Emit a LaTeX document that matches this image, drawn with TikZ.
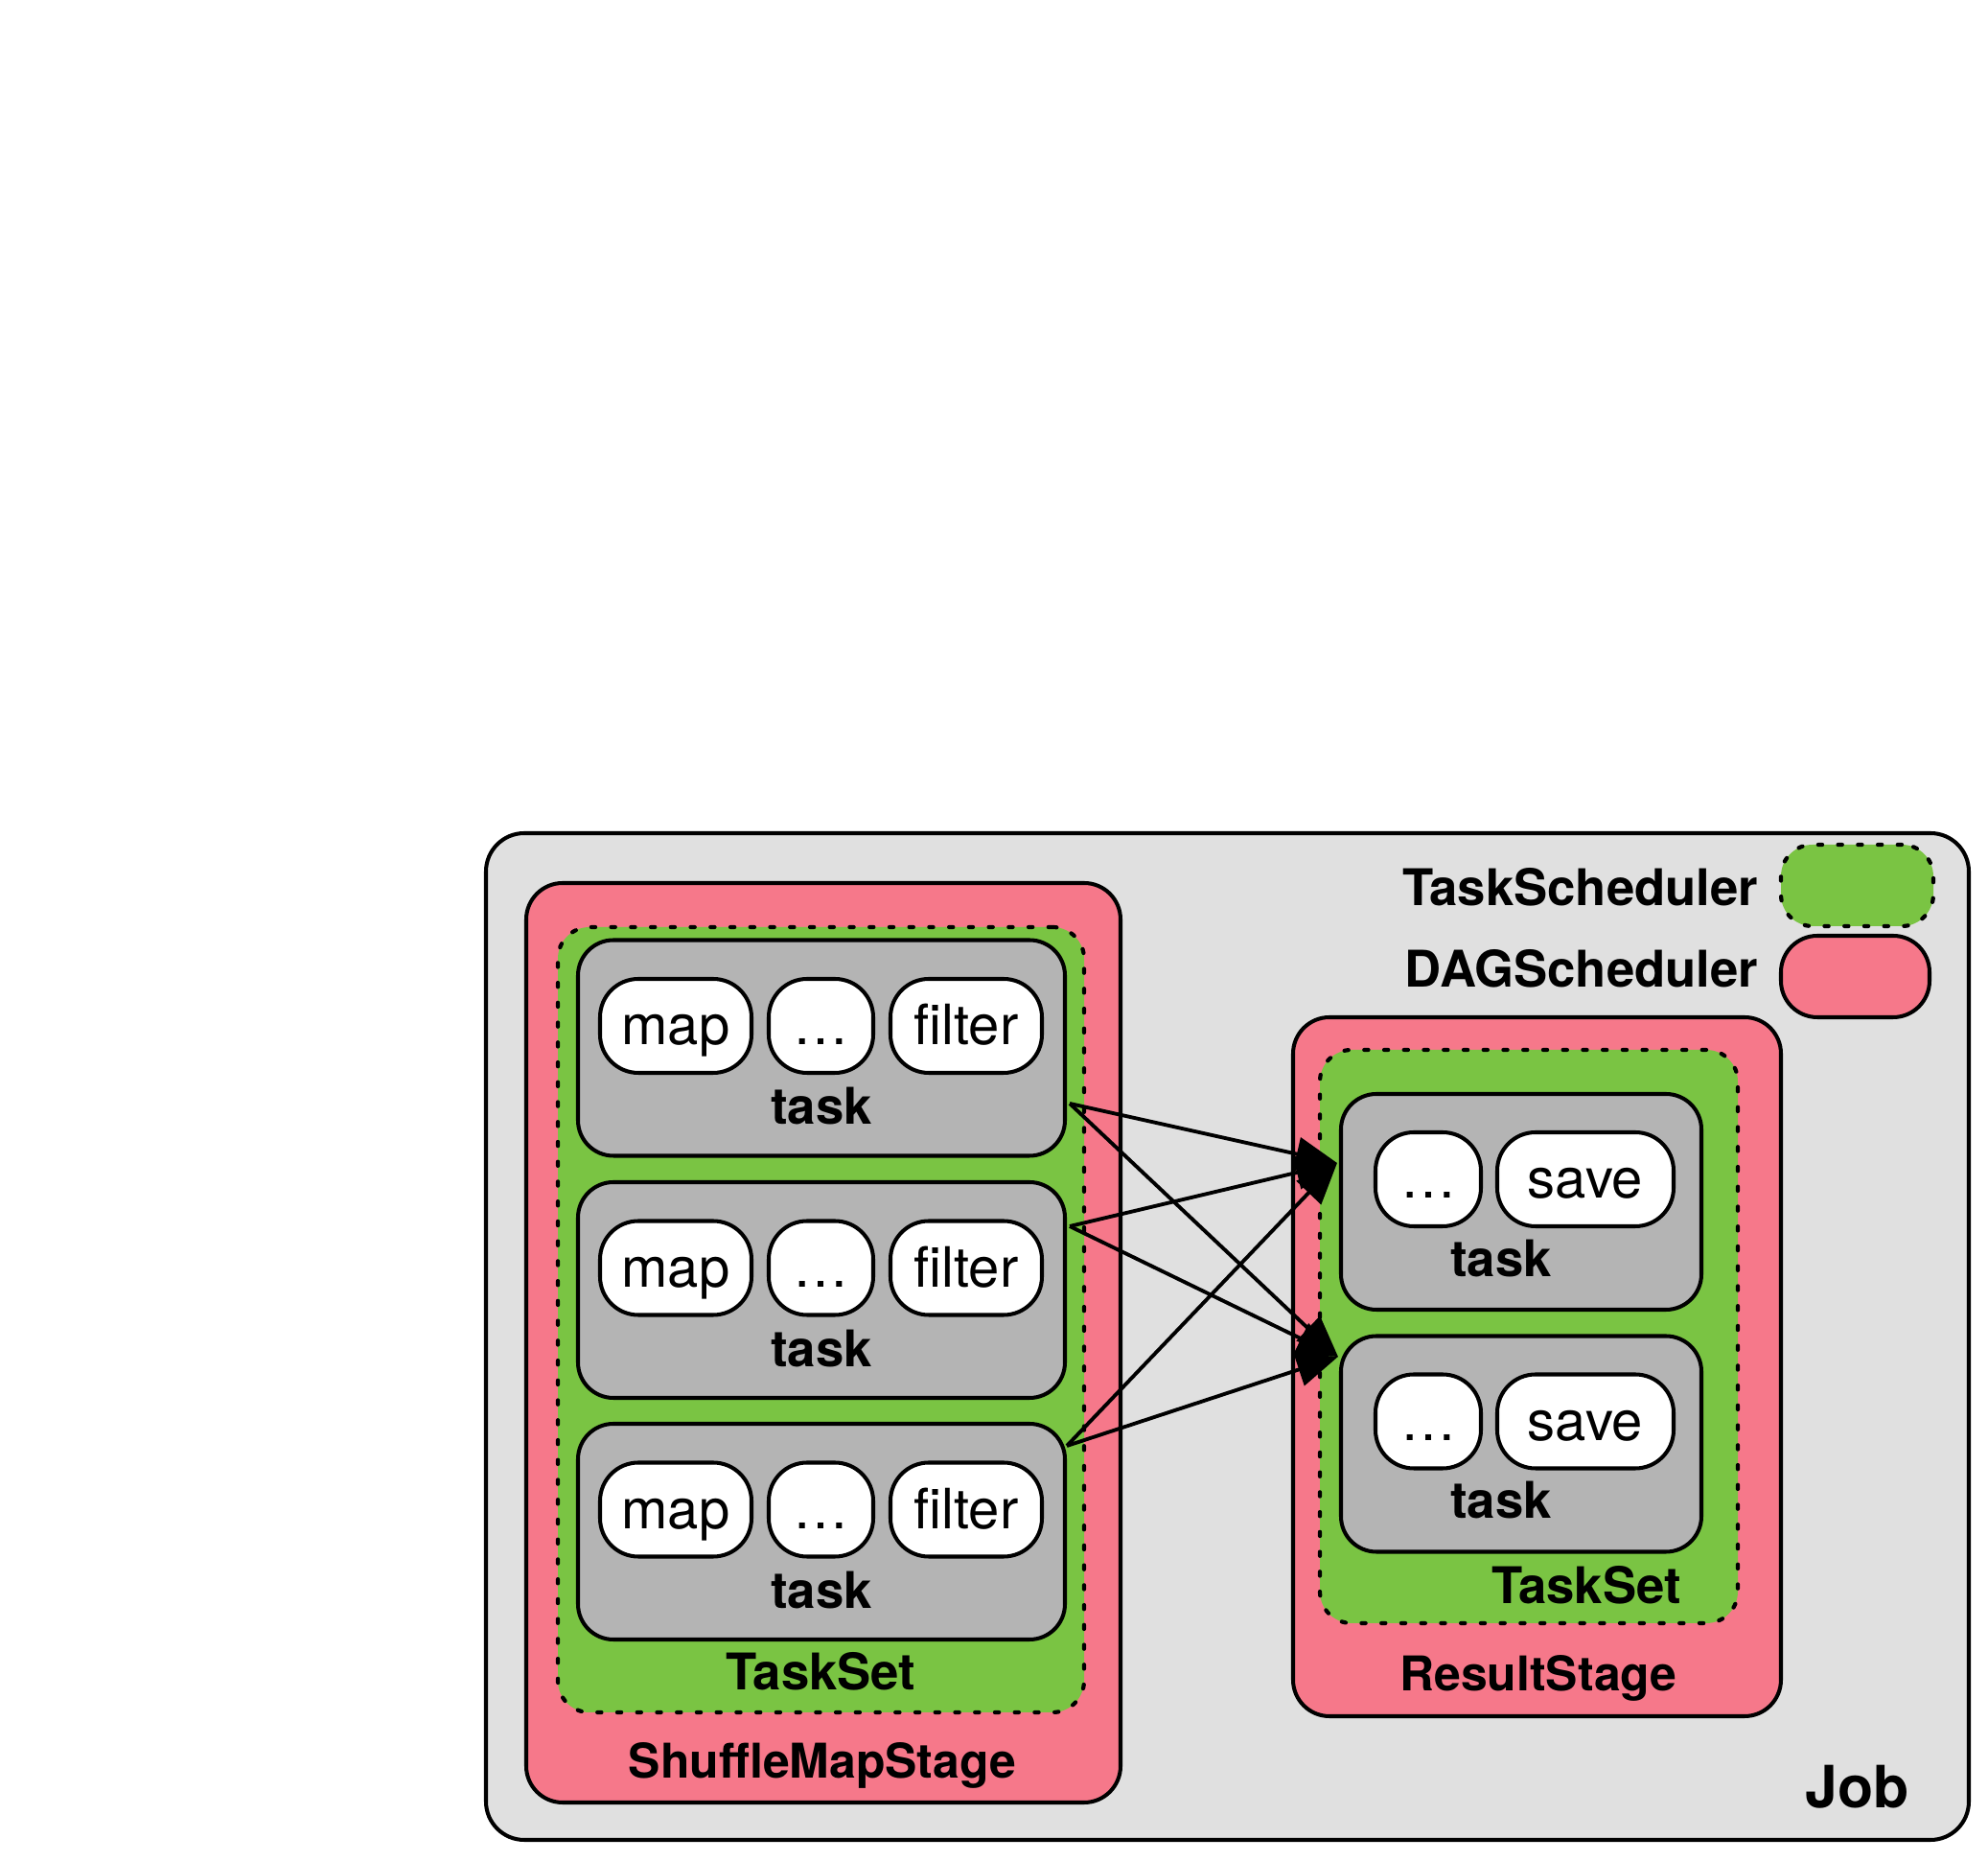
\documentclass[tikz,border=0pt]{standalone}
\usepackage{fontspec}
\setmainfont{TeX Gyre Heros}
\usepackage{tikz}
\usetikzlibrary{arrows.meta,calc}
\definecolor{jobc}{RGB}{224,224,224}
\definecolor{stgc}{RGB}{246,120,138}
\definecolor{tsc}{RGB}{122,196,67}
\definecolor{tkc}{RGB}{180,180,180}

\begin{document}
\begin{tikzpicture}[
  jobbox/.style={draw,line width=1.15pt,fill=jobc,rounded corners=0.4cm,inner sep=0pt},
  stagebox/.style={draw,line width=1.15pt,fill=stgc,rounded corners=0.38cm,inner sep=0pt},
  tsbox/.style={draw,line width=1.2pt,line cap=round,dash pattern=on 1.2pt off 4.7pt,fill=tsc,rounded corners=0.33cm,inner sep=0pt},
  taskbox/.style={draw,line width=1.15pt,fill=tkc,rounded corners=0.37cm,inner sep=0pt,minimum height=2.25cm},
  opbox/.style={draw,line width=1.15pt,fill=white,rounded corners=0.4cm,inner sep=0pt,minimum height=0.98cm,text height=0.5cm,text depth=0.1cm,font=\fontsize{16.5}{18}\selectfont},
  lbl/.style={anchor=base,inner sep=0pt,font=\fontsize{15}{18}\selectfont\bfseries},
  link/.style={line width=1.1pt,-{Triangle[length=4.3mm,width=3.5mm]}}]
  \useasboundingbox (0,0) rectangle (20.74,-19.41);

  % job and legend
  \node[jobbox,minimum width=15.47cm,minimum height=10.50cm] (job) at (12.805,-13.94) {};
  \node[lbl,font=\fontsize{17.3}{20}\selectfont\bfseries] (joblbl) at (19.38,-18.86) {Job};
  \node[tsbox,minimum width=1.59cm,minimum height=0.85cm] (legts) at (19.375,-9.235) {};
  \node[stagebox,minimum width=1.55cm,minimum height=0.85cm] (legdag) at (19.355,-10.185) {};
  \node[lbl,anchor=base east] (legtslbl) at (18.35,-9.45) {TaskScheduler};
  \node[lbl,anchor=base east] (legdaglbl) at (18.35,-10.30) {DAGScheduler};

  % ShuffleMapStage
  \node[stagebox,minimum width=6.20cm,minimum height=9.59cm] (sms) at (8.59,-14.005) {};
  \node[tsbox,minimum width=5.49cm,minimum height=8.19cm] (tsl) at (8.565,-13.765) {};
  \foreach \i/\y in {1/-10.93,2/-13.455,3/-15.975} {
    \node[taskbox,minimum width=5.08cm] (t\i) at (8.57,\y) {};
    \node[opbox,minimum width=1.58cm] (map\i) at (7.05,\y+0.23) {map};
    \node[opbox,minimum width=1.09cm] (dots\i) at (8.565,\y+0.23) {…};
    \node[opbox,minimum width=1.58cm] (filter\i) at (10.08,\y+0.23) {filter};
    \node[lbl] (tlbl\i) at (8.57,\y-0.80) {task};
  }
  \node[lbl] (tsllbl) at (8.565,-17.63) {TaskSet};
  \node[lbl,font=\fontsize{14.2}{17}\selectfont\bfseries] (smslbl) at (8.58,-18.55) {ShuffleMapStage};

  % ResultStage
  \node[stagebox,minimum width=5.09cm,minimum height=7.29cm] (rs) at (16.035,-14.255) {};
  \node[tsbox,minimum width=4.36cm,minimum height=5.98cm] (tsr) at (15.95,-13.94) {};
  \foreach \i/\y in {1/-12.535,2/-15.06} {
    \node[taskbox,minimum width=3.76cm] (r\i) at (15.87,\y) {};
    \node[opbox,minimum width=1.10cm] (rdots\i) at (14.90,\y+0.235) {…};
    \node[opbox,minimum width=1.84cm] (save\i) at (16.54,\y+0.235) {save};
    \node[lbl] (rlbl\i) at (15.66,\y-0.78) {task};
  }
  \node[lbl] (tsrlbl) at (16.55,-16.73) {TaskSet};
  \node[lbl,font=\fontsize{14.2}{17}\selectfont\bfseries] (rslbl) at (16.05,-17.64) {ResultStage};

  % shuffle dependencies
  \draw[link] ([xshift=0.03cm,yshift=-0.58cm]t1.east) -- ([xshift=-0.02cm,yshift=0.405cm]r1.west);
  \draw[link] ([xshift=0.03cm,yshift=-0.58cm]t1.east) -- ([xshift=-0.01cm,yshift=0.91cm]r2.west);
  \draw[link] ([xshift=0.03cm,yshift=0.665cm]t2.east) -- ([xshift=-0.02cm,yshift=0.405cm]r1.west);
  \draw[link] ([xshift=0.03cm,yshift=0.665cm]t2.east) -- ([xshift=-0.01cm,yshift=0.91cm]r2.west);
  \draw[link] ([xshift=0.0cm,yshift=0.895cm]t3.east) -- ([xshift=-0.02cm,yshift=0.405cm]r1.west);
  \draw[link] ([xshift=0.0cm,yshift=0.895cm]t3.east) -- ([xshift=-0.01cm,yshift=0.91cm]r2.west);
\end{tikzpicture}
\end{document}
